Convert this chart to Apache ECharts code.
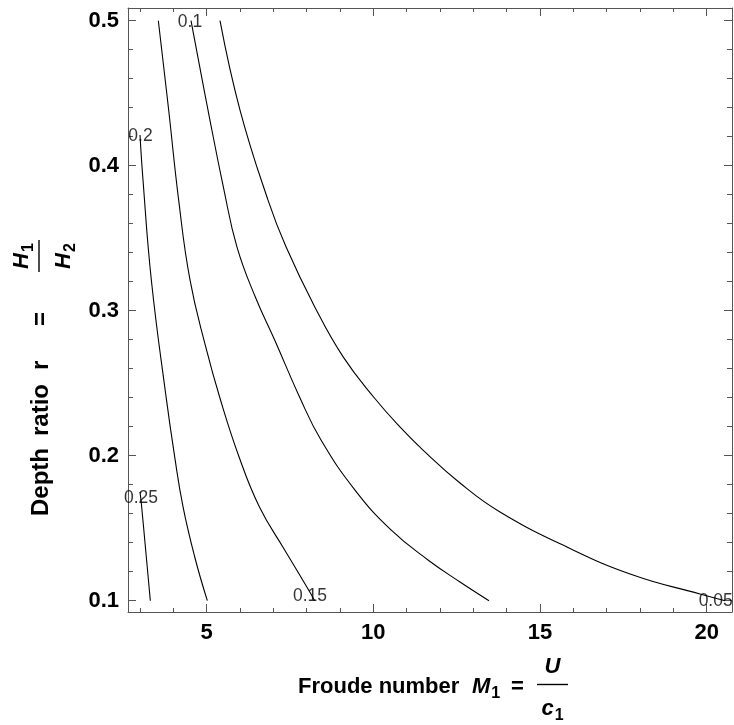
<!DOCTYPE html>
<html>
<head>
<meta charset="utf-8">
<script src="https://cdn.jsdelivr.net/npm/echarts@6/dist/echarts.min.js"></script>
<style>
html,body{margin:0;padding:0;background:#fff;}
#chart{width:734px;height:725px;}
</style>
</head>
<body>
<div id="chart"></div>
<script>
// ---- data ----
const c05 = [[5.40,0.500],[6.00,0.4384],[6.84,0.3763],[7.38,0.3441],[8.24,0.3028],[9.09,0.2683],[10.04,0.2396],[10.79,0.2200],[11.49,0.2039],[12.60,0.1812],[13.80,0.1612],[15.81,0.1370],[17.79,0.1177],[19.80,0.1046],[20.55,0.100]];
const c10 = [[4.53,0.500],[5.04,0.4384],[5.52,0.3832],[5.91,0.3439],[6.46,0.3094],[7.04,0.2798],[7.80,0.2398],[8.43,0.2108],[9.45,0.1763],[10.53,0.1488],[11.64,0.1281],[12.60,0.1129],[13.47,0.100]];
const c15 = [[3.55,0.500],[3.86,0.4384],[4.16,0.3763],[4.50,0.3212],[4.97,0.2752],[5.40,0.2396],[5.97,0.1993],[6.58,0.1648],[7.34,0.1350],[8.09,0.1062],[8.24,0.100]];
const c20 = [[3.00,0.4212],[3.09,0.3901],[3.34,0.3212],[3.77,0.2426],[4.04,0.1993],[4.29,0.1648],[4.64,0.1303],[5.02,0.100]];
const c25 = [[3.00,0.175],[3.04,0.167],[3.17,0.135],[3.31,0.100]];
const contourLevels = ['0.05','0.1','0.15','0.2','0.25'];
const labelText = ['0.05','0.1','0.15','0.2','0.25'];
const labelX = [20.27, 4.50, 8.10, 3.015, 3.03];
const labelY = [0.100, 0.499, 0.103, 0.4205, 0.1705];
const xMajor = [5,10,15,20];
const xMinor = [3,4,6,7,8,9,11,12,13,14,16,17,18,19];
const yMajor = [0.1,0.2,0.3,0.4,0.5];
const yMinor = [0.12,0.14,0.16,0.18,0.22,0.24,0.26,0.28,0.32,0.34,0.36,0.38,0.42,0.44,0.46,0.48];
const xRange = [2.64, 20.76];
const yRange = [0.0922, 0.50876];

// ---- styling ----
const FF = '"Liberation Sans", Arial, Helvetica, sans-serif';
const bold22 = 'bold 22px ' + FF;
const bi22 = 'italic bold 22px ' + FF;
const b16 = 'bold 16px ' + FF;
const bold24 = 'bold 24px ' + FF;
const frameColor = '#555';

const cv = document.createElement('canvas').getContext('2d');
function tw(t, f) { cv.font = f; return cv.measureText(t).width; }
function baseOff(f) {
  cv.font = f; cv.textBaseline = 'alphabetic';
  const a = cv.measureText('H').actualBoundingBoxAscent;
  cv.textBaseline = 'middle';
  const b = cv.measureText('H').actualBoundingBoxAscent;
  cv.textBaseline = 'alphabetic';
  return a - b;
}
function txt(t, x, baseline, f) {
  return {type:'text', style:{text:t, x:x, y:baseline - baseOff(f), font:f, fill:'#000', align:'left', verticalAlign:'middle'}};
}
function sym(ch, x, B, mainF, sub, subF) {
  const out = [txt(ch, x, B, mainF)];
  out.push(txt(sub, x + tw(ch, mainF) + 1, B + 5, subF));
  return out;
}
function symW(ch, mainF, sub, subF) { return tw(ch, mainF) + 1 + tw(sub, subF); }
function bar(x1, x2, y) {
  return {type:'line', shape:{x1:x1, y1:y, x2:x2, y2:y}, style:{stroke:'#000', lineWidth:1.4}};
}

// x-axis title: Froude number M1 = U / c1
const xB = 693;
const xTitle = [].concat(
  [txt('Froude number', 298, xB, bold22)],
  sym('M', 472, xB, bi22, '1', b16),
  [txt('=', 511, xB, bold22)],
  [bar(537, 568, xB - 8.5)],
  [txt('U', 552.5 - tw('U', bi22)/2, xB - 20, bi22)],
  sym('c', 552.5 - symW('c', bi22, '1', b16)/2, xB + 22, bi22, '1', b16)
);
// y-axis title (rotated): Depth ratio r = H1 / H2
const yTitle = [].concat(
  [txt('Depth', 0, 0, bold24)],
  [txt('ratio', 80, 0, bold24)],
  [txt('r', 146, 0, bold24)],
  [txt('=', 190, 0, bold24)],
  [bar(244, 276, -9)],
  sym('H', 260 - symW('H', bi22, '1', b16)/2, -20, bi22, '1', b16),
  sym('H', 260 - symW('H', bi22, '2', b16)/2, 22, bi22, '2', b16)
);

function axisCommon(min, max) {
  return {type:'value', min:min, max:max, splitLine:{show:false}, axisPointer:{show:false}};
}
function mkX(pos, vals, len, label, line) {
  return Object.assign(axisCommon(xRange[0], xRange[1]), {
    position:pos,
    axisLine:{show:line, onZero:false, lineStyle:{color:frameColor, width:1}},
    axisTick:{show:true, inside:true, length:len, customValues:vals, lineStyle:{color:frameColor, width:1}},
    axisLabel:{show:label, customValues:vals, margin:10, fontSize:22, fontWeight:'bold', color:'#000', fontFamily:FF,
      formatter: v => String(Math.round(v))}
  });
}
function mkY(pos, vals, len, label, line) {
  return Object.assign(axisCommon(yRange[0], yRange[1]), {
    position:pos,
    axisLine:{show:line, onZero:false, lineStyle:{color:frameColor, width:1}},
    axisTick:{show:true, inside:true, length:len, customValues:vals, lineStyle:{color:frameColor, width:1}},
    axisLabel:{show:label, customValues:vals, margin:9, fontSize:22, fontWeight:'bold', color:'#000', fontFamily:FF,
      formatter: v => (Math.round(v*10)/10).toFixed(1)}
  });
}

const curves = [c05, c10, c15, c20, c25];
const series = curves.map((c, i) => ({
  type:'line', name:contourLevels[i], data:c, xAxisIndex:0, yAxisIndex:0,
  showSymbol:false, smooth:0.45, lineStyle:{color:'#000', width:1.1}, silent:true
}));
series.push({
  type:'scatter', xAxisIndex:0, yAxisIndex:0, symbolSize:0, silent:true,
  data: labelX.map((x, i) => ({value:[x, labelY[i]], name:labelText[i]})),
  label:{show:true, position:'inside', formatter:p => p.name, color:'#000', fontSize:17.5, fontFamily:FF}
});

const chart = echarts.init(document.getElementById('chart'), null, {renderer:'canvas'});
chart.setOption({
  animation:false,
  backgroundColor:'#fff',
  grid:{left:128, top:8, width:604, height:604, containLabel:false},
  xAxis:[mkX('bottom', xMajor, 8, true, true), mkX('bottom', xMinor, 4, false, false),
         mkX('top', xMajor, 8, false, true), mkX('top', xMinor, 4, false, false)],
  yAxis:[mkY('left', yMajor, 8, true, true), mkY('left', yMinor, 5, false, false),
         mkY('right', yMajor, 8, false, true), mkY('right', yMinor, 5, false, false)],
  series:series,
  graphic:[
    {type:'group', x:0, y:0, children:xTitle},
    {type:'group', x:48, y:516, rotation:Math.PI/2, children:yTitle}
  ]
});
</script>
</body>
</html>
